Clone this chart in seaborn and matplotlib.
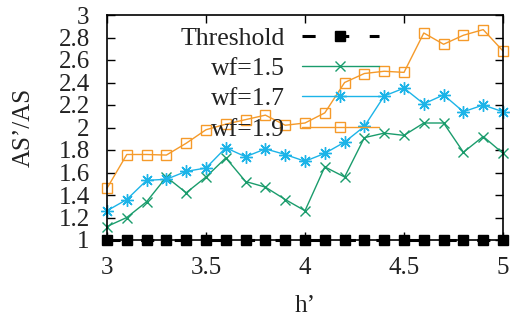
import numpy as np
import pandas as pd
import matplotlib
matplotlib.use('Agg')
import matplotlib.pyplot as plt
import seaborn as sns

h = [3.0, 3.1, 3.2, 3.3, 3.4, 3.5, 3.6, 3.7, 3.8, 3.9, 4.0,
     4.1, 4.2, 4.3, 4.4, 4.5, 4.6, 4.7, 4.8, 4.9, 5.0]
threshold = [1.0] * 21
wf15 = [1.12, 1.20, 1.34, 1.56, 1.42, 1.56, 1.73, 1.52, 1.47, 1.36, 1.26,
        1.65, 1.56, 1.91, 1.95, 1.93, 2.04, 2.04, 1.78, 1.92, 1.77]
wf17 = [1.26, 1.36, 1.53, 1.54, 1.61, 1.64, 1.82, 1.74, 1.81, 1.76, 1.70,
        1.77, 1.87, 2.01, 2.28, 2.35, 2.21, 2.29, 2.14, 2.20, 2.14]
wf19 = [1.46, 1.76, 1.76, 1.755, 1.86, 1.98, 2.03, 2.07, 2.11, 2.02, 2.04,
        2.13, 2.40, 2.48, 2.50, 2.49, 2.84, 2.74, 2.82, 2.87, 2.68]

xticks = [3, 3.5, 4, 4.5, 5]
yticks = [1, 1.2, 1.4, 1.6, 1.8, 2, 2.2, 2.4, 2.6, 2.8, 3]

sns.set_style('ticks')
plt.rcParams['font.family'] = ['Liberation Serif', 'DejaVu Serif']

fig = plt.figure(figsize=(5.13, 3.29), dpi=100)
ax = fig.add_axes([107/513, 1 - 240/329, 396/513, 225/329])

sns.lineplot(x=h, y=threshold, ax=ax, color='black', lw=2.2,
             linestyle=(0, (4.3, 6.7)), marker='s', ms=6.5,
             mec='black', mew=1, label='Threshold', clip_on=False, zorder=5)
sns.lineplot(x=h, y=wf15, ax=ax, color='#1a9c6c', lw=1, marker='x', ms=7,
             mec='#1a9c6c', mew=1, label='wf=1.5', clip_on=False)
sns.lineplot(x=h, y=wf17, ax=ax, color='#1cb4e8', lw=1, marker=(8, 2, 0), ms=9,
             mec='#1cb4e8', mew=1, label='wf=1.7', clip_on=False)
sns.lineplot(x=h, y=wf19, ax=ax, color='#f59a2a', lw=1, marker='s', ms=7.5,
             mfc='none', mec='#f59a2a', mew=1, label='wf=1.9', clip_on=False)

ax.set_xlim(3, 5)
ax.set_ylim(1, 3)
ax.set_xticks(xticks)
ax.set_xticklabels(['3', '3.5', '4', '4.5', '5'])
ax.set_yticks(yticks)
ax.set_yticklabels(['%g' % v for v in yticks])
ax.tick_params(direction='in', length=6, width=1, top=True, right=True,
               labelsize=18, colors='black', labelcolor='#222222')
ax.tick_params(axis='y', pad=12.5)
ax.tick_params(axis='x', pad=12)
for s in ax.spines.values():
    s.set_linewidth(1.2)
    s.set_color('black')

ax.set_xlabel('h’', fontsize=18, color='#222222')
ax.set_ylabel('AS’/AS', fontsize=18, color='#222222')
ax.yaxis.set_label_coords(-0.182, 0.5)
ax.xaxis.set_label_coords(0.5, -0.245)

leg = ax.legend(loc='upper right', bbox_to_anchor=(379/513, 1 - 27/329),
                bbox_transform=fig.transFigure, frameon=False, markerfirst=False,
                handlelength=3.0, handletextpad=0.65, labelspacing=0.28,
                borderpad=0, borderaxespad=0, fontsize=18.5)
for t in leg.get_texts():
    t.set_color('#222222')

fig.savefig('out.png', dpi=100)
